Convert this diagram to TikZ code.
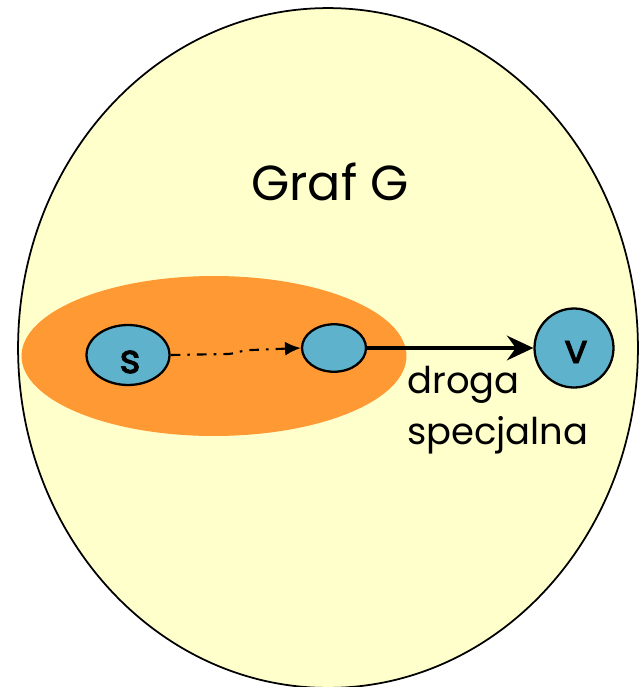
\documentclass[tikz,border=0pt]{standalone}
\usepackage{fontspec}
\setmainfont{Poppins}
\newfontfamily\grubyfont[FakeBold=2]{Poppins}
\usepackage{tikz}
\usetikzlibrary{shapes.geometric, arrows.meta, positioning}
\definecolor{grafbg}{RGB}{255,255,204}
\definecolor{setorange}{RGB}{255,153,51}
\definecolor{vertblue}{RGB}{94,178,204}
\tikzset{
  graf/.style={ellipse, draw=black, fill=grafbg, line width=1pt,
    minimum width=12.4cm, minimum height=13.6cm, inner sep=0pt},
  zbior/.style={ellipse, fill=setorange, draw=none,
    minimum width=7.7cm, minimum height=3.2cm, inner sep=0pt},
  wierzch/.style={ellipse, draw=black, fill=vertblue, line width=1.3pt,
    inner sep=0pt},
  etykieta/.style={font=\fontsize{23}{24}\grubyfont},
  kropki/.style={-{Latex[length=9pt,width=8pt]}, line width=1.2pt,
    dash pattern=on 5.5pt off 4pt on 1.5pt off 4pt},
  droga/.style={-{Stealth[length=15pt,width=14pt,inset=5pt]}, line width=2pt}
}

\begin{document}
\begin{tikzpicture}[x=0.02cm, y=-0.02cm]

  % ── Bounding box: 642 x 687 ───────────────────────────────────────────────
  \useasboundingbox (0,0) rectangle (642,687);

  % ── Graph and the orange set ──────────────────────────────────────────────
  \node[graf] (g) at (328,348) {};
  \node[zbior] (set) at (214,356) {};
  \node[font=\fontsize{28}{30}\selectfont] (title) at (330,182) {Graf G};

  % ── Vertices ──────────────────────────────────────────────────────────────
  \node[wierzch, minimum width=1.66cm, minimum height=1.2cm] (s) at (128,355) {};
  \node[etykieta] (slab) at (130,362) {s};
  \node[wierzch, minimum width=1.28cm, minimum height=0.95cm] (u) at (334,348) {};
  \node[wierzch, circle, minimum size=1.58cm] (v) at (574,348) {};
  \node[etykieta] (vlab) at (576,352) {v};

  % ── Connections ───────────────────────────────────────────────────────────
  \draw[kropki] (s.east) -- (228,354) .. controls (240,353) and (240,350) .. (252,350)
    -- (u.west);
  \draw[droga] (u.east) -- (v.west);

  % ── Label ─────────────────────────────────────────────────────────────────
  \node[anchor=north west, align=left, inner sep=0pt,
        font=\fontsize{21}{29}\selectfont] (lab) at (407,366)
       {droga\\specjalna};

\end{tikzpicture}
\end{document}
